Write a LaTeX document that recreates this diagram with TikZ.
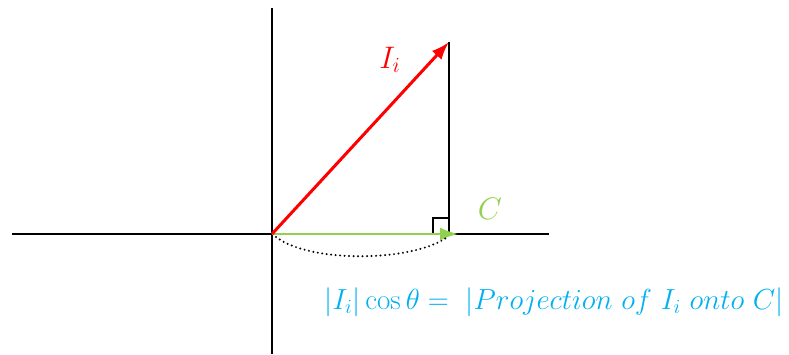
\documentclass[tikz,border=0pt]{standalone}
\usepackage{amsmath}
\usepackage{graphicx}
\usetikzlibrary{arrows.meta}
\definecolor{vecred}{RGB}{255,0,0}
\definecolor{vecgreen}{RGB}{146,208,80}
\definecolor{projblue}{RGB}{0,176,240}
\begin{document}
\begin{tikzpicture}[x=1pt,y=-1pt,line width=2pt,>={Latex[length=18pt,width=13pt]}]
  \useasboundingbox (0,0) rectangle (789,355);
  \coordinate (O) at (272,234);
  \coordinate (xl) at (12,234); \coordinate (xr) at (549,234);
  \coordinate (yt) at (272,8); \coordinate (yb) at (272,354);
  \coordinate (tip) at (449,42); \coordinate (foot) at (449,234);
  % ejes
  \draw (xl)--(xr); \draw (yt)--(yb);
  % proyeccion y angulo recto
  \draw (tip)--(foot);
  \draw[line width=1.8pt] (433,234)--(433,218)--(449,218);
  \draw[vecgreen,->,line width=2.2pt] (O)--(458,234);
  \draw[vecred,->,line width=3pt] (O)--(tip);
  \draw[line width=2.2pt,line cap=round,dash pattern=on 0pt off 4.5pt] (276,237) .. controls (310,263) and (410,262) .. (446,238);
  % etiquetas
  \node[vecred] (Ilab) at (390,60){\scalebox{1.5}{\huge$I_i$}};
  \node[vecgreen] (Clab) at (490,209){\scalebox{1.5}{\huge$C$}};
  \node[projblue] (eq) at (554,302){\scalebox{1.4}{\huge$|I_i|\cos\theta =\ |Projection\ of\ I_i\ onto\ C|$}};
\end{tikzpicture}
\end{document}
